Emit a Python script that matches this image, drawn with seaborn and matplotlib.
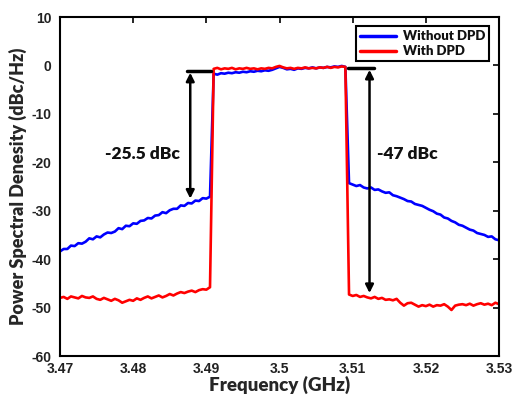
import matplotlib
matplotlib.use("Agg")
import matplotlib.pyplot as plt
import seaborn as sns
import pandas as pd

# ---- data ----
freq_left = [3.4700, 3.4705, 3.4710, 3.4715, 3.4720, 3.4725, 3.4730, 3.4735, 3.4740, 3.4745,
             3.4750, 3.4755, 3.4760, 3.4765, 3.4770, 3.4775, 3.4780, 3.4785, 3.4790, 3.4795,
             3.4800, 3.4805, 3.4810, 3.4815, 3.4820, 3.4825, 3.4830, 3.4835, 3.4840, 3.4845,
             3.4850, 3.4855, 3.4860, 3.4865, 3.4870, 3.4875, 3.4880, 3.4885, 3.4890, 3.4895,
             3.4900, 3.4905]
freq_band = [3.4910, 3.4915, 3.4920, 3.4925, 3.4930, 3.4935, 3.4940, 3.4945, 3.4950, 3.4955,
             3.4960, 3.4965, 3.4970, 3.4975, 3.4980, 3.4985, 3.4990, 3.4995, 3.5000, 3.5005,
             3.5010, 3.5015, 3.5020, 3.5025, 3.5030, 3.5035, 3.5040, 3.5045, 3.5050, 3.5055,
             3.5060, 3.5065, 3.5070, 3.5075, 3.5080, 3.5085, 3.5090]
freq_right = [3.5095, 3.5100, 3.5105, 3.5110, 3.5115, 3.5120, 3.5125, 3.5130, 3.5135, 3.5140,
              3.5145, 3.5150, 3.5155, 3.5160, 3.5165, 3.5170, 3.5175, 3.5180, 3.5185, 3.5190,
              3.5195, 3.5200, 3.5205, 3.5210, 3.5215, 3.5220, 3.5225, 3.5230, 3.5235, 3.5240,
              3.5245, 3.5250, 3.5255, 3.5260, 3.5265, 3.5270, 3.5275, 3.5280, 3.5285, 3.5290,
              3.5295, 3.5300]

without_dpd = [
    # lower side
    -38.4, -37.9, -37.9, -37.2, -37.3, -36.7, -36.8, -36.4, -35.7, -35.9,
    -35.3, -35.5, -34.9, -34.5, -34.6, -34.3, -33.6, -33.8, -33.1, -33.2,
    -32.6, -32.7, -32.1, -32.0, -31.5, -31.6, -31.0, -30.9, -30.3, -30.5,
    -29.9, -29.6, -29.6, -28.9, -29.0, -28.4, -28.5, -27.9, -28.0, -27.4,
    -27.5, -27.1,
    # in band
    -1.7, -1.9, -1.6, -1.7, -1.5, -1.6, -1.4, -1.5, -1.3, -1.4,
    -1.2, -1.3, -1.1, -1.2, -1.0, -1.1, -0.9, -0.6, -0.3, -0.5,
    -0.8, -0.7, -0.9, -0.6, -0.7, -0.5, -0.6, -0.4, -0.6, -0.4,
    -0.5, -0.3, -0.4, -0.2, -0.3, -0.1, -0.3,
    # upper side
    -24.3, -24.6, -24.9, -24.7, -25.2, -25.4, -25.2, -25.7, -25.6, -26.0,
    -26.3, -26.2, -26.8, -27.0, -27.3, -27.6, -28.0, -28.1, -28.6, -28.8,
    -29.0, -29.4, -29.8, -30.1, -30.6, -30.8, -31.4, -31.6, -32.1, -32.4,
    -32.9, -33.1, -33.5, -33.9, -34.1, -34.6, -34.8, -35.0, -35.4, -35.3,
    -35.9, -36.1]

with_dpd = [
    # lower side
    -48.0, -47.8, -48.2, -47.7, -47.9, -48.1, -47.6, -47.9, -48.0, -47.7,
    -48.2, -48.4, -48.0, -48.3, -48.6, -48.2, -48.5, -49.0, -48.7, -48.4,
    -48.6, -48.1, -48.4, -48.0, -47.7, -48.1, -47.8, -47.5, -47.9, -47.6,
    -47.2, -47.5, -47.1, -46.8, -47.0, -46.7, -46.5, -46.8, -46.4, -46.2,
    -46.3, -45.8,
    # in band
    -0.7, -0.5, -0.8, -0.6, -0.7, -0.5, -0.8, -0.6, -0.7, -0.5,
    -0.7, -0.6, -0.8, -0.6, -0.7, -0.5, -0.6, -0.3, -0.1, -0.4,
    -0.6, -0.5, -0.7, -0.5, -0.6, -0.4, -0.6, -0.5, -0.6, -0.4,
    -0.5, -0.3, -0.5, -0.3, -0.4, -0.2, -0.3,
    # upper side
    -47.3, -47.6, -47.4, -47.8, -47.6, -47.9, -48.1, -47.8, -48.2, -48.0,
    -48.4, -48.3, -48.5, -48.2, -49.0, -49.6, -49.1, -49.0, -49.4, -49.8,
    -49.5, -49.7, -49.4, -49.8, -49.5, -49.6, -49.3, -49.8, -50.5, -49.6,
    -49.4, -49.3, -49.5, -49.2, -49.6, -49.3, -49.1, -49.4, -49.2, -49.5,
    -49.0, -49.3]

series_names = ["Without DPD", "With DPD"]
xticks = [3.47, 3.48, 3.49, 3.50, 3.51, 3.52, 3.53]
xtick_labels = ["3.47", "3.48", "3.49", "3.5", "3.51", "3.52", "3.53"]
yticks = [10, 0, -10, -20, -30, -40, -50, -60]
ytick_labels = ["10", "0", "-10", "-20", "-30", "-40", "-50", "-60"]

# annotation values
left_ref = -1.2
left_bottom = -27.5
left_label = "-25.5 dBc"
right_ref = -0.6
right_bottom = -47.0
right_label = "-47 dBc"

# ---- build frame ----
freq = freq_left + freq_band + freq_right
df = pd.DataFrame({
    "Frequency": freq * 2,
    "PSD": without_dpd + with_dpd,
    "Series": [series_names[0]] * len(freq) + [series_names[1]] * len(freq),
})

sns.set_theme(style="white")
plt.rcParams["font.family"] = ["Lato", "DejaVu Sans"]
plt.rcParams["font.weight"] = "bold"
plt.rcParams["axes.unicode_minus"] = False
plt.rcParams["text.color"] = "#111111"

TICK_FONT = ["Liberation Sans", "DejaVu Sans"]
HEAVY = "heavy"

fig = plt.figure(figsize=(5.15, 3.96), dpi=100)
ax = fig.add_axes([0.1165, 0.101, 0.8525, 0.856])

sns.lineplot(data=df, x="Frequency", y="PSD", hue="Series",
             palette={"Without DPD": "#0000FF", "With DPD": "#FF0000"},
             linewidth=1.9, ax=ax, estimator=None, sort=False)

ax.set_xlim(3.47, 3.53)
ax.set_ylim(-60, 10)
ax.set_xticks(xticks, labels=xtick_labels, fontweight="bold", fontsize=10,
              family=TICK_FONT)
ax.set_yticks(yticks, labels=ytick_labels, fontweight="bold", fontsize=10,
              family=TICK_FONT)
ax.tick_params(axis="both", direction="in", top=True, right=True, length=4, width=1.2,
               colors="black")
ax.tick_params(axis="x", pad=4)
ax.tick_params(axis="y", pad=6)
for lab in ax.get_xticklabels() + ax.get_yticklabels():
    lab.set_color("#222222")
for s in ax.spines.values():
    s.set_color("black")
    s.set_linewidth(1.5)

ax.set_xlabel("Frequency (GHz)", fontsize=13.5, fontweight=HEAVY, labelpad=0)
ax.set_ylabel("Power Spectral Denesity (dBc/Hz)", fontsize=13, fontweight=HEAVY, labelpad=3)

# annotations
ax.plot([3.4873, 3.4906], [left_ref, left_ref], color="black", lw=2.5)
ax.annotate("", xy=(3.4878, left_bottom), xytext=(3.4878, left_ref - 0.3),
            arrowprops=dict(arrowstyle="<|-|>", color="black", lw=1.8,
                            mutation_scale=12, shrinkA=0, shrinkB=0))
ax.text(3.4812, -18.3, left_label, fontsize=12.5, fontweight=HEAVY,
        ha="center", va="center")

ax.plot([3.5094, 3.5129], [right_ref, right_ref], color="black", lw=2.5)
ax.annotate("", xy=(3.5123, right_bottom), xytext=(3.5123, right_ref - 0.3),
            arrowprops=dict(arrowstyle="<|-|>", color="black", lw=1.8,
                            mutation_scale=12, shrinkA=0, shrinkB=0))
ax.text(3.5174, -18.3, right_label, fontsize=12.5, fontweight=HEAVY,
        ha="center", va="center")

leg = ax.legend(loc="upper right", bbox_to_anchor=(0.977, 0.973), borderaxespad=0,
                fancybox=False, edgecolor="black", framealpha=1,
                prop={"weight": HEAVY, "size": 9.5}, handlelength=2.7,
                borderpad=0.3, labelspacing=0.25, handletextpad=0.5)
leg.get_frame().set_linewidth(1.5)
for line in leg.get_lines():
    line.set_linewidth(2.5)

fig.savefig("out.png", dpi=100)
